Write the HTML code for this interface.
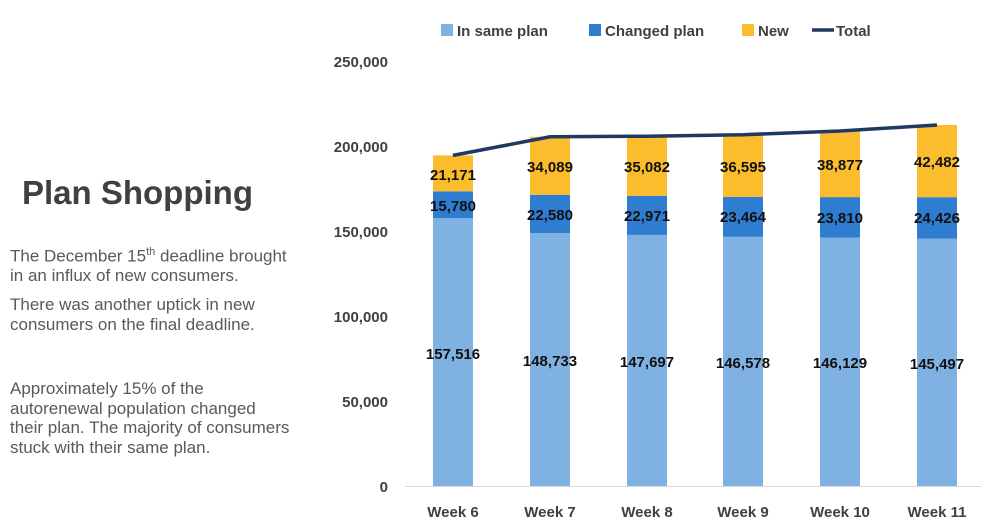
<!DOCTYPE html>
<html><head><meta charset="utf-8"><style>
body{margin:0;background:#fff;width:981px;height:527px;overflow:hidden;font-family:"Liberation Sans",sans-serif}
.t{position:absolute;left:22px;top:174px;font-size:33px;font-weight:bold;color:#404040}
.p{position:absolute;left:10px;font-size:17px;color:#595959;line-height:19.5px;letter-spacing:0px}
</style></head><body>
<div class="t">Plan Shopping</div>
<div class="p" style="top:243px">The December 15<sup style="font-size:11px">th</sup> deadline brought<br>in an influx of new consumers.</div>
<div class="p" style="top:295px">There was another uptick in new<br>consumers on the final deadline.</div>
<div class="p" style="top:379px">Approximately 15% of the<br>autorenewal population changed<br>their plan. The majority of consumers<br>stuck with their same plan.</div>
<svg width="981" height="527" style="position:absolute;left:0;top:0" font-family="Liberation Sans,sans-serif" font-weight="bold">
<g font-size="15" fill="#404040" text-anchor="end">
<text x="388" y="67">250,000</text><text x="388" y="152">200,000</text><text x="388" y="237">150,000</text>
<text x="388" y="322">100,000</text><text x="388" y="407">50,000</text><text x="388" y="492">0</text></g>
<line x1="405" y1="486.5" x2="985" y2="486.5" stroke="#d9d9d9"/>
<g id="bars">
<rect x="433" y="218.2" width="40" height="267.8" fill="#7FB1E2"/><rect x="433" y="191.4" width="40" height="26.8" fill="#2E7DD1"/><rect x="433" y="155.4" width="40" height="36" fill="#FBBC2D"/>
<rect x="530" y="233.2" width="40" height="252.8" fill="#7FB1E2"/><rect x="530" y="194.8" width="40" height="38.4" fill="#2E7DD1"/><rect x="530" y="136.8" width="40" height="58" fill="#FBBC2D"/>
<rect x="627" y="234.9" width="40" height="251.1" fill="#7FB1E2"/><rect x="627" y="195.8" width="40" height="39.1" fill="#2E7DD1"/><rect x="627" y="136.2" width="40" height="59.6" fill="#FBBC2D"/>
<rect x="723" y="236.8" width="40" height="249.2" fill="#7FB1E2"/><rect x="723" y="196.9" width="40" height="39.9" fill="#2E7DD1"/><rect x="723" y="134.7" width="40" height="62.2" fill="#FBBC2D"/>
<rect x="820" y="237.6" width="40" height="248.4" fill="#7FB1E2"/><rect x="820" y="197.1" width="40" height="40.5" fill="#2E7DD1"/><rect x="820" y="131" width="40" height="66.1" fill="#FBBC2D"/>
<rect x="917" y="238.7" width="40" height="247.3" fill="#7FB1E2"/><rect x="917" y="197.2" width="40" height="41.5" fill="#2E7DD1"/><rect x="917" y="125" width="40" height="72.2" fill="#FBBC2D"/>
</g>
<polyline points="453,155.4 550,136.8 647,136.2 743,134.7 840,131 937,125" fill="none" stroke="#1F3864" stroke-width="3.5"/>
<g font-size="15" fill="#111" text-anchor="middle">
<text x="453" y="180">21,171</text><text x="453" y="211">15,780</text><text x="453" y="359">157,516</text>
<text x="550" y="172">34,089</text><text x="550" y="220">22,580</text><text x="550" y="366">148,733</text>
<text x="647" y="172">35,082</text><text x="647" y="221">22,971</text><text x="647" y="367">147,697</text>
<text x="743" y="172">36,595</text><text x="743" y="222">23,464</text><text x="743" y="368">146,578</text>
<text x="840" y="170">38,877</text><text x="840" y="223">23,810</text><text x="840" y="368">146,129</text>
<text x="937" y="167">42,482</text><text x="937" y="223">24,426</text><text x="937" y="369">145,497</text>
</g>
<g font-size="15" fill="#404040" text-anchor="middle">
<text x="453" y="517">Week 6</text><text x="550" y="517">Week 7</text><text x="647" y="517">Week 8</text>
<text x="743" y="517">Week 9</text><text x="840" y="517">Week 10</text><text x="937" y="517">Week 11</text></g>
<g font-size="15" fill="#404040">
<rect x="441" y="24" width="12" height="12" fill="#7FB1E2"/><text x="457" y="36">In same plan</text>
<rect x="589" y="24" width="12" height="12" fill="#2E7DD1"/><text x="605" y="36">Changed plan</text>
<rect x="742" y="24" width="12" height="12" fill="#FBBC2D"/><text x="758" y="36">New</text>
<line x1="812" y1="30" x2="834" y2="30" stroke="#1F3864" stroke-width="3.5"/><text x="836" y="36">Total</text>
</g>
</svg>
</body></html>
